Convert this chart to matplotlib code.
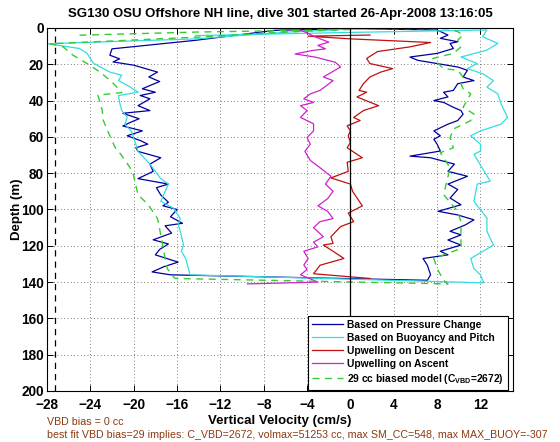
import matplotlib
matplotlib.use("Agg")
import matplotlib.pyplot as plt
import numpy as np

plt.rcParams['font.family'] = ['Liberation Sans', 'DejaVu Sans']
plt.rcParams['mathtext.fontset'] = 'custom'
plt.rcParams['mathtext.bf'] = 'Liberation Sans:bold'
plt.rcParams['mathtext.rm'] = 'Liberation Sans:bold'

title = "SG130 OSU Offshore NH line, dive 301 started 26-Apr-2008 13:16:05"
xlabel = "Vertical Velocity (cm/s)"
ylabel = "Depth (m)"
note1 = "VBD bias = 0 cc"
note2 = "best fit VBD bias=29 implies: C_VBD=2672, volmax=51253 cc, max SM_CC=548, max MAX_BUOY=-307"

xticks = [-28, -24, -20, -16, -12, -8, -4, 0, 4, 8, 12]
yticks = [0, 20, 40, 60, 80, 100, 120, 140, 160, 180, 200]
min_speed_line = -27.3

labels = ["Based on Pressure Change", "Based on Buoyancy and Pitch",
          "Upwelling on Descent", "Upwelling on Ascent",
          r"29 cc biased model (C$_{\mathbf{VBD}}$=2672)"]

# Based on Pressure Change (descent then ascent)
pc_vel = [0.2, -7, -14.3, -22, -22.2, -21.3, -21.9, -20, -17.8, -18.6, -17.6, -18.5, -19.2, -18, -19.4,
          -18.5, -19.6, -18.5, -21, -19.5, -20.3, -21, -19.2, -20.6, -19.4, -18.7, -19.8, -19.6, -17.5,
          -18.5, -18.2, -19.6, -16.8, -17.9, -17.5, -16.8, -17.3, -16, -16.6, -15.5, -17.1, -16.5, -18.2,
          -16.8, -17.6, -18, -15.9, -17.2, -18.3, -16.6,
          7.1, 7.4, 7.1, 6.7, 9, 8.3, 10.2, 9, 10.2, 9.2, 10.6, 11.4, 9.9, 8.1, 10.2, 9.2, 9.9, 9,
          10.8, 9, 9.6, 7.4, 5.5, 8.3, 8, 7.7, 8.3, 7.7, 9, 9.9, 10.4, 10.2, 9.5, 8.6, 7.7, 9, 8.6,
          9.5, 9.9, 11.4, 10.4, 10.8, 9.9, 8, 6.2, 5.5, 8, 9.5, 9.2, 9.9, 8.3, 9, 8, 0.2]
pc_depth = [0.3, 1.3, 6.8, 11.5, 15, 17, 18.7, 20.5, 24.3, 27, 29.5, 31.7, 33.5, 35.4, 37.2,
            39, 42.8, 45.5, 47, 50, 52, 54, 56.7, 59.4, 62, 64, 66, 68, 71.5,
            75, 79, 83, 86, 88, 92, 96, 98, 100, 104, 107.6, 109, 113, 116.7,
            119, 122, 125, 129, 131.5, 134.4, 136,
            139, 136, 130.7, 127, 125, 123, 119.6, 116.8, 114, 112, 108.5, 105.7, 103, 101, 97.4, 93.7, 89, 86,
            81.7, 79, 75, 71.5, 70.6, 67.8, 64, 61.3, 59.4, 56.7, 53, 51, 47.5, 45.5, 43.7, 41, 40, 38, 35.4,
            34.4, 30.7, 29, 27, 23.3, 21.5, 19.6, 17.8, 16, 14, 11.3, 8.5, 7.6, 5.7, 3.9, 1.1, 0.3]

# Based on Buoyancy and Pitch
bp_vel = [0.5, -5, -8.1, -14.3, -22, -27.9, -25, -24.3, -23.7, -22.2, -21.1, -21.4, -20.3, -19.6,
          -21.4, -21.3, -21.1, -20.6, -20.8, -20.2, -20, -19.6, -18.5, -17.5, -16.8, -17.5, -16.3,
          -15.7, -15.9, -15.7, -15.4, -15.6, -15.2, -14.8,
          12.3, 12, 11.4, 11.1, 13.2, 12.6, 12.6, 11.4, 11.7, 12.9, 11.4, 12, 12, 11.1, 12, 13.9,
          14.5, 13.9, 13.6, 12.6, 13.2, 12.2, 10.8, 11.7, 10.2, 12.6, 13.6, 12.2, 12.6, -0.5, -14.3]
bp_depth = [0.5, 2, 3.2, 6, 7.5, 8.7, 11.3, 14, 19.5, 24.3, 26, 29, 32.6, 35.4,
            37.2, 41, 45.5, 49, 53, 57, 60.5, 68, 75, 83, 86, 95.5, 99.4,
            105, 108, 112, 119.6, 123, 127, 136,
            140.4, 136, 132.6, 127, 119.6, 112, 104.8, 95.5, 86, 84.4, 69.6, 67.8, 64, 59.4, 56.7, 53,
            49.3, 41.8, 36.3, 32.6, 29, 25.2, 22.4, 19.6, 16, 12.2, 8.5, 4.8, 1.1, 2.5, 4.2]

# Upwelling on Descent
ud_vel = [1.8, -3.9, 0, 7.4, 5.5, 2.5, 1.5, 1.8, 3.9, 2.8, 1.8, 1.2, 0.8, 1.5, 0.6, 2.6, 1.2, 0.3,
          0.9, -0.3, 0, -0.2, 0, -0.3, 1.1, -0.3, -0.2, -1.8, 0, 0.2, 1.1, -0.2, 0.3, -0.9, -1.8,
          -1.6, -2.5, -1.6, -0.6, -2.8, -3.4, 1.8]
ud_depth = [3.9, 4.5, 6, 8, 10.4, 13, 16.8, 19.6, 22.4, 24.3, 27, 30.7, 34.4, 35.4, 38, 42.8, 45.5, 49.3,
            51, 53.9, 56.7, 59.4, 63, 66, 71.5, 74, 79, 82.6, 86, 90, 98, 102, 106.7, 109.4, 115,
            118.7, 119.6, 123, 127, 130.7, 135.4, 138]

# Upwelling on Ascent
ua_vel = [0.2, -6.6, -4.6, -4.2, -3.2, -2, -3, -2.3, -3.5, -5.1, -3.2, -1.4, -0.9, -2.5, -1.6, -2.8,
          -3.7, -4.3, -3.4, -4.6, -4, -4.6, -3.4, -3.4, -4, -3.7, -4.2, -3.7, -2.8, -1.8, -2.3, -1.6,
          -2.1, -3, -2.1, -1.6, -2.8, -3.4, -2.5, -3.4, -3, -4.3, -3.9, -4.3, -4, -4.6, -3, -9.5]
ua_depth = [0, 0.4, 1.2, 2.2, 5, 7.8, 9.6, 11.5, 12.4, 14.3, 16.1, 18.9, 21.5, 27, 29, 34.4,
            36.3, 39, 41, 42.8, 45.5, 49.3, 52.8, 56.7, 60.4, 64, 68, 73, 77, 81.7, 86, 90,
            94, 98, 101, 105, 106.7, 110, 115, 118, 120.6, 123, 127, 130.6, 133, 136, 140, 141]

# 29 cc biased model
md_vel = [0, -7, -14, -27.7, -26.5, -25.6, -24.3, -23.1, -22, -21.4, -21.1, -23.3, -22.9, -22.8,
          -22.3, -21.7, -21.2, -20.1, -19.6, -18.7, -17.8, -17.5, -17.1, -16.9, -16.2,
          9, 8.6, 8, 7.7, 10.2, 10.2, 10.2, 9.9, 8.6, 9.2, 8.3, 9.5, 9.2, 9.5, 11.1, 11.4, 10.4,
          11.1, 10.4, 10.2, 10.4, 9.9, 8.6, 7.6, 9.5, 10.2, 9.9, 10.4, 9.9, 9, 0, -4.2, -13.9, -25.2]
md_depth = [0.8, 2.5, 5, 8.7, 10.4, 15, 19.6, 24.3, 29.8, 33.5, 35.6, 37, 45.5, 51,
            58, 66, 69.5, 79, 92, 97, 105, 114, 127, 132.6, 138,
            141, 139, 132.6, 127, 121.5, 114, 106.7, 101, 91.8, 77, 68.7, 66, 60.4, 55.7, 51, 47.4, 43.7,
            36.3, 33.5, 30.7, 27, 23.3, 22.4, 16.8, 14, 10.4, 6.7, 3.9, 2, 0.4, 0.4, 1.3, 2.2, 4]

fig = plt.figure(figsize=(5.6, 4.42), dpi=100)
ax = fig.add_axes([0.0839, 0.1154, 0.8321, 0.8213])

l1, = ax.plot(pc_vel, pc_depth, color='#0000a0', lw=0.9)
l2, = ax.plot(bp_vel, bp_depth, color='#33dde0', lw=0.9)
l3, = ax.plot(ud_vel, ud_depth, color='#c01010', lw=0.9)
l4, = ax.plot(ua_vel, ua_depth, color='#d020d0', lw=0.9)
l5, = ax.plot(md_vel, md_depth, color='#33cc33', lw=1.0, ls=(0, (5, 4)))

ax.axvline(0, color='black', lw=0.9)
ax.axvline(min_speed_line, color='black', lw=0.9, ls=(0, (5, 4)))

ax.set_xlim(-28, 15)
ax.set_ylim(200, 0)
ax.set_xticks(xticks)
ax.set_yticks(yticks)
ax.set_xticklabels([str(t).replace('-', '\u2212') for t in xticks])
ax.grid(True, ls=(0, (1, 3)), color='#555555', lw=0.6)
ax.tick_params(direction='in', top=True, right=True, length=4, width=0.7,
               labelsize=9.8)
ax.tick_params(axis='x', pad=5)
ax.tick_params(axis='y', pad=2.5)
for lab in ax.get_xticklabels() + ax.get_yticklabels():
    lab.set_fontweight('bold')
for s in ax.spines.values():
    s.set_linewidth(0.8)

ax.set_title(title, fontsize=9.5, fontweight='bold', pad=8)
ax.set_xlabel(xlabel, fontsize=9.5, fontweight='bold', labelpad=2)
ax.set_ylabel(ylabel, fontsize=9.5, fontweight='bold')
ax.yaxis.set_label_coords(-0.052, 0.5)

leg = ax.legend([l1, l2, l3, l4, l5], labels, loc='lower right',
                bbox_to_anchor=(0.989, 0.004), prop={'size': 7.4, 'weight': 'bold'},
                fancybox=False, framealpha=1, edgecolor='black', handlelength=3.0,
                handletextpad=0.45, labelspacing=0.3, borderpad=0.35, borderaxespad=0)
leg.get_frame().set_linewidth(0.8)

fig.text(47 / 560, 1 - 422 / 442, note1, fontsize=7.7, color='#8b3a10', va='center', ha='left')
fig.text(47 / 560, 1 - 435 / 442, note2, fontsize=7.7, color='#8b3a10', va='center', ha='left')

fig.savefig('out.png', dpi=100)
